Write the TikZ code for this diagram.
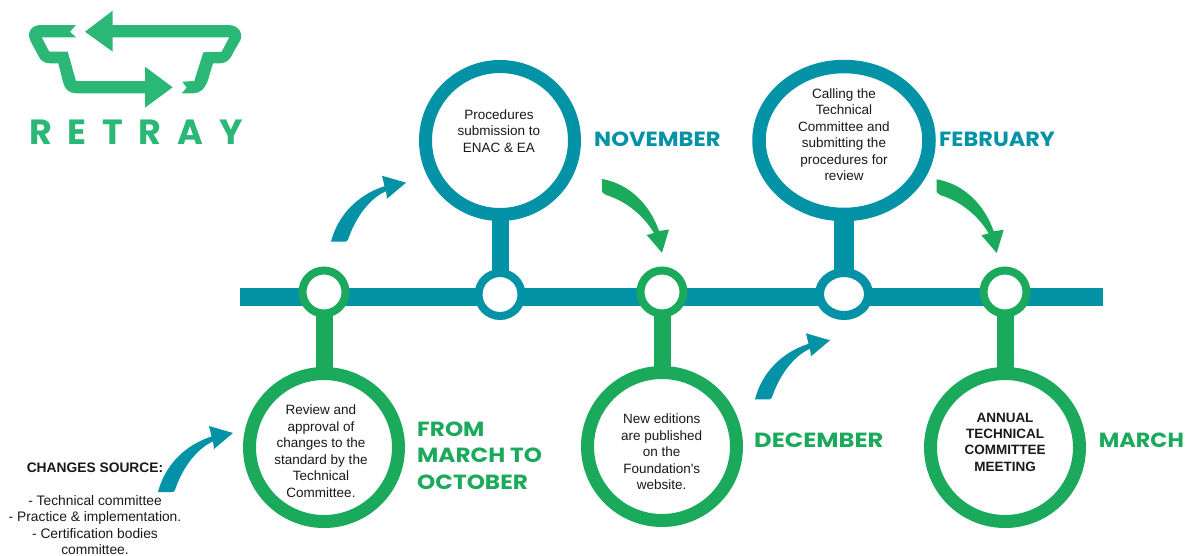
\documentclass[tikz,border=0pt]{standalone}
\usepackage{fontspec}
\setmainfont{Liberation Sans}
\newfontfamily\headfont{Poppins}
\usetikzlibrary{shapes.geometric}
\definecolor{tealc}{HTML}{0492A6}
\definecolor{greenc}{HTML}{1BA95B}
\definecolor{logoc}{HTML}{2BB877}
\tikzset{
  bigring/.style={ellipse,draw=#1,fill=white,line width=13pt,minimum width=149pt,minimum height=148pt,inner sep=0pt},
  smallring/.style={ellipse,draw=#1,fill=white,line width=8pt,minimum width=43pt,minimum height=43pt,inner sep=0pt},
  stemline/.style={draw=#1,line width=17pt,shorten >=-2pt,shorten <=-2pt},
  body/.style={align=center,inner sep=0pt,text=black!90,font=\fontsize{13.5}{16.5}\selectfont},
  heading/.style={anchor=west,inner sep=0pt,text=#1,align=left,transform shape,font=\headfont\bfseries\fontsize{20.5}{26.3}\selectfont},
  pics/tealcurve/.style={code={\fill[tealc] (0,0) .. controls (7,-27) and (27,-47) .. (53.5,-55.5) -- (51,-66) -- (75,-59) -- (56,-43) -- (55,-50.5) .. controls (40,-44) and (25,-26) .. (17,-2) -- (15,0) -- cycle;}},
  pics/greencurve/.style={code={\fill[greenc] (0,0) .. controls (28,5) and (48,26) .. (57,52) -- (67,50.5) -- (60,73.7) -- (44.7,56) -- (52,54) .. controls (41,36) and (24,22) .. (4,16) -- (0,13) -- cycle;}},
}
\begin{document}
\begin{tikzpicture}[x=1pt,y=-1pt]
\useasboundingbox (0,0) rectangle (1192,555);
% logo
\fill[logoc] (112.7,25) -- (228,25) .. controls (238,25) and (243,32) .. (240.5,40) -- (233,53) .. controls (230,60) and (226,63.3) .. (220,63.3) -- (213,63.3) -- (208,80) .. controls (205,89) and (200,93.3) .. (193,93.3) -- (181.7,93.3) -- (186.7,87.7) -- (182.3,81.7) -- (194.3,81) -- (203.3,52.3) -- (221.7,51.7) -- (229.3,37.3) -- (112.7,37.3) -- (112.7,51.7) -- (85,31.7) -- (112.7,10.7) -- cycle;
\fill[logoc] (76,25) -- (70,31.7) -- (76,37.3) -- (41.7,37.3) -- (49.3,51.7) -- (67.7,51.7) -- (76,81) -- (145,81) -- (145,66.7) -- (172.7,87.3) -- (145,107.7) -- (145,93.3) -- (76,93.3) .. controls (69,93.3) and (65,89) .. (63.3,83) -- (58.3,63.3) -- (50,63.3) .. controls (44,63.3) and (40,60) .. (38,55) -- (31,42) .. controls (26,33) and (31,25) .. (41,25) -- cycle;
\node[anchor=west,inner sep=0pt,text=logoc] (logotext) at (29,132.5) {\headfont\bfseries\addfontfeature{LetterSpace=45}\fontsize{35}{35}\selectfont RETRAY};
% bar
\coordinate (barL) at (240,296.7);
\coordinate (barR) at (1103,296.7);
\draw[tealc,line width=18pt] (barL) -- (barR);
% small rings
\node[smallring=greenc] (s1) at (324,292) {};
\node[smallring=tealc] (s2) at (500,294.5) {};
\node[smallring=greenc] (s3) at (662,292) {};
\node[smallring=tealc,minimum width=49pt,line width=9pt] (s4) at (844,294) {};
\node[smallring=greenc] (s5) at (1005,292) {};
% big rings
\node[bigring=greenc] (b1) at (324,447.5) {};
\node[bigring=tealc] (b2) at (500,140.5) {};
\node[bigring=greenc] (b3) at (662,446.5) {};
\node[bigring=tealc,minimum width=170pt,minimum height=148pt,line width=13.5pt] (b4) at (844,140.5) {};
\node[bigring=greenc] (b5) at (1005,447.5) {};
% stems
\draw[stemline=greenc] (s1.south) -- (b1.north);
\draw[stemline=tealc] (s2.north) -- (b2.south);
\draw[stemline=greenc] (s3.south) -- (b3.north);
\draw[stemline=tealc,line width=20pt] (s4.north) -- (b4.south);
\draw[stemline=greenc] (s5.south) -- (b5.north);
% texts
\node[body] (t1) at (321,451) {Review and\\approval of\\changes to the\\standard by the\\Technical\\Committee.};
\node[body] (t2) at (499,130.7) {Procedures\\submission to\\ENAC \& EA};
\node[body] (t3) at (661.7,451.7) {New editions\\are published\\on the\\Foundation\textquotesingle s\\website.};
\node[body] (t4) at (844,134.7) {Calling the\\Technical\\Committee and\\submitting the\\procedures for\\review};
\node[body,font=\bfseries\fontsize{13.5}{16.3}\selectfont] (t5) at (1005,442) {ANNUAL\\TECHNICAL\\COMMITTEE\\MEETING};
\node[body,font=\fontsize{13.8}{16.5}\selectfont] (src) at (95,508.5) {\textbf{CHANGES SOURCE:}\\[16.5pt]- Technical committee\\- Practice \& implementation.\\- Certification bodies\\committee.};
% headings
\node[heading=greenc,xscale=1.13] (h1) at (417,455.5) {FROM\\MARCH TO\\OCTOBER};
\node[heading=tealc,xscale=1.105] (h2) at (594,139) {NOVEMBER};
\node[heading=greenc,xscale=1.18] (h3) at (754,440.7) {DECEMBER};
\node[heading=tealc,xscale=1.094] (h4) at (939,139) {FEBRUARY};
\node[heading=greenc,xscale=1.09] (h5) at (1098.7,440.7) {MARCH};
% curved arrows
\pic at (158,492) {tealcurve};
\pic at (331,241.7) {tealcurve};
\pic at (755,399.3) {tealcurve};
\pic at (602,179) {greencurve};
\pic at (936.7,179.3) {greencurve};
\end{tikzpicture}
\end{document}
